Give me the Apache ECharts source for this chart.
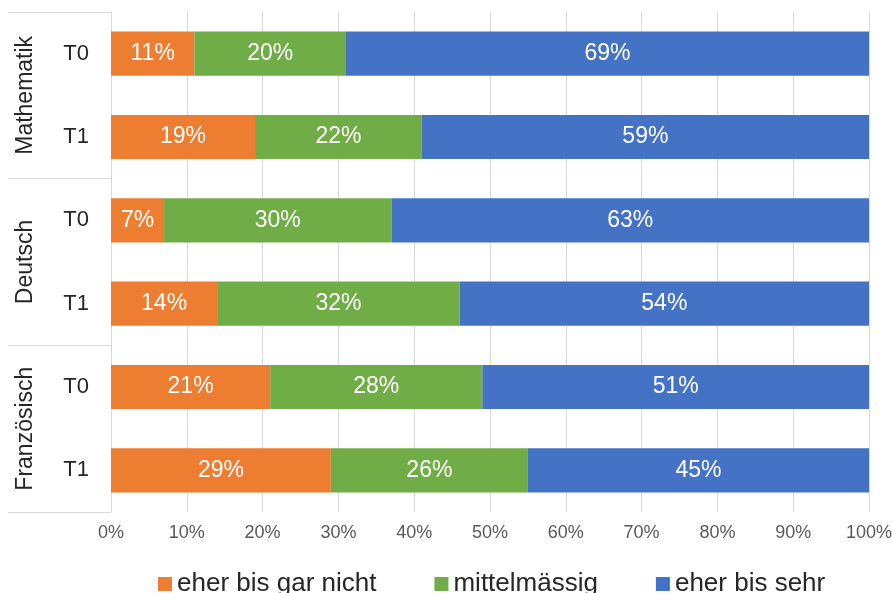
<!DOCTYPE html>
<html>
<head>
<meta charset="utf-8">
<script src="https://cdn.jsdelivr.net/npm/echarts@6/dist/echarts.min.js"></script>
<style>html,body{margin:0;padding:0;background:#fff}#c{width:892px;height:593px}</style>
</head>
<body>
<div id="c"></div>
<script>
const categories = ['T0', 'T1', 'T0', 'T1', 'T0', 'T1'];
const groups = ['Mathematik', 'Deutsch', 'Französisch'];
const seriesNames = ['eher bis gar nicht', 'mittelmässig', 'eher bis sehr'];
const gar_nicht = [11, 19, 7, 14, 21, 29];
const mittel = [20, 22, 30, 32, 28, 26];
const sehr = [69, 59, 63, 54, 51, 45];
const colors = ['#ED7D31', '#70AD47', '#4472C4'];

const chart = echarts.init(document.getElementById('c'));
const font = 'Liberation Sans, Arial, sans-serif';
const mk = (name, data, color) => ({
  name, type: 'bar', stack: 'all', data, barWidth: '53%',
  itemStyle: { color },
  label: { show: true, formatter: '{c}%', color: '#fff', fontSize: 23, fontFamily: font },
  yAxisIndex: 0
});
chart.setOption({
  animation: false,
  color: colors,
  grid: { left: 111, right: 23, top: 12, bottom: 81, containLabel: false, outerBoundsMode: 'none' },
  legend: {
    top: 566, left: 153, itemWidth: 14, itemHeight: 14, itemGap: 58,
    icon: 'rect',
    textStyle: { fontSize: 26, color: '#262626', fontFamily: font },
    data: seriesNames
  },
  xAxis: {
    type: 'value', min: 0, max: 100, interval: 10,
    axisLabel: { formatter: '{value}%', fontSize: 18, color: '#595959', fontFamily: font, margin: 12 },
    splitLine: { show: true, lineStyle: { color: '#d9d9d9', width: 1 } },
    axisLine: { show: false }, axisTick: { show: false }
  },
  yAxis: [
    {
      type: 'category', data: categories, inverse: true, position: 'left',
      axisLine: { show: false }, axisTick: { show: false },
      axisLabel: { fontSize: 22, color: '#262626', fontFamily: font, margin: 22 }
    },
    {
      type: 'category', data: groups, inverse: true, position: 'left',
      axisLine: { show: true, lineStyle: { color: '#d9d9d9', width: 1 } },
      axisTick: { show: true, length: 103, lineStyle: { color: '#d9d9d9', width: 1 } },
      axisLabel: { rotate: 90, fontSize: 23, color: '#262626', fontFamily: font, margin: 74 },
      splitLine: { show: false }
    }
  ],
  series: [
    mk(seriesNames[0], gar_nicht, colors[0]),
    mk(seriesNames[1], mittel, colors[1]),
    mk(seriesNames[2], sehr, colors[2])
  ]
});
</script>
</body>
</html>
